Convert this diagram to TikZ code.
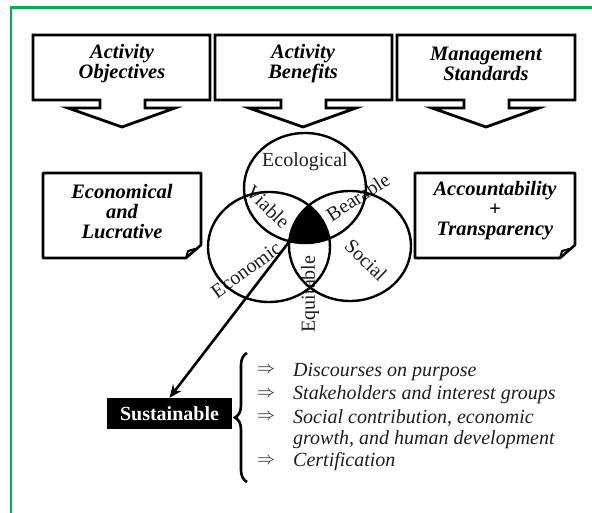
\documentclass[tikz,border=0pt]{standalone}
\usepackage{graphicx}
\usepackage{fontspec}
\setmainfont{Liberation Serif}
\usetikzlibrary{arrows.meta,decorations.pathreplacing}
\definecolor{framegreen}{RGB}{0,176,80}
\definecolor{txtgray}{RGB}{30,30,30}
\newcommand{\listimplies}{\raisebox{2pt}{\resizebox{18pt}{!}{$\Rightarrow$}}}
\begin{document}
\begin{tikzpicture}[x=1pt,y=-1pt,
  frameline/.style={draw=framegreen,line width=2.6pt},
  calloutline/.style={draw=black,line width=2.8pt,line join=miter,fill=white},
  notebox/.style={draw=black,line width=2.6pt,line join=round,fill=white},
  foldline/.style={draw=black,line width=2pt,line join=round},
  boxtext/.style={font=\fontsize{20.5}{20}\selectfont\bfseries\itshape,align=center,inner sep=0pt},
  venn/.style={draw=black,line width=2.4pt},
  vlabel/.style={font=\fontsize{20}{20}\selectfont,text=txtgray,inner sep=0pt},
  listtext/.style={font=\fontsize{20}{22}\selectfont\itshape,text=txtgray,inner sep=0pt,anchor=base west},
  listarrow/.style={text=txtgray,inner sep=0pt,anchor=base west},
  susbox/.style={fill=black,text=white,font=\fontsize{20}{20}\selectfont\bfseries,minimum width=125pt,minimum height=31pt,inner sep=0pt},
  mainarrow/.style={draw=black,line width=2.6pt,-{Stealth[length=13pt,width=11pt]}},
  bracestyle/.style={draw=black,line width=2.6pt,decorate,decoration={brace,amplitude=12pt}}
]
\useasboundingbox (0,0) rectangle (592,513);
% green frame
\coordinate (g1) at (11,513);
\coordinate (g2) at (11,7.5);
\coordinate (g3) at (592,7.5);
\draw[frameline] (g1) -- (g2) -- (g3);

% top callouts
\foreach \L/\R/\C in {33/210/122, 215/392/303, 397/575/486}{
  \draw[calloutline] (\L,35) -- (\R,35) -- (\R,100) -- (\C+23,100) -- (\C+23,108)
    -- (\C+53,108) -- (\C,127) -- (\C-54,108) -- (\C-22,108) -- (\C-22,100)
    -- (\L,100) -- cycle;
}
\node[boxtext] (t1) at (122,64) {Activity\\Objectives};
\node[boxtext] (t2) at (303,64) {Activity\\Benefits};
\node[boxtext] (t3) at (486,64) {Management\\Standards};

% notes
\draw[notebox] (43,173) -- (201,173) -- (201,245) -- (186,258) -- (43,258) -- cycle;
\draw[foldline] (186,258) -- (188,251) -- (195,249);
\node[boxtext] (n1) at (122,212) {Economical\\and\\Lucrative};
\draw[notebox] (415,173) -- (575,173) -- (575,245) -- (560,258) -- (415,258) -- cycle;
\draw[foldline] (560,258) -- (562,251) -- (569,249);
\node[boxtext] (n2) at (495,211) {Accountability\\+\\Transparency};

% venn core
\begin{scope}
  \clip (305,188) ellipse [x radius=61, y radius=55];
  \clip (269,247) ellipse [x radius=61, y radius=55];
  \fill[black] (350,246) ellipse [x radius=61, y radius=55];
\end{scope}

% venn labels
\node[vlabel] (eco) at (305,162) {Ecological};
\node[vlabel,rotate=-44] (via) at (268,207) {Viable};
\node[vlabel,rotate=33] (bea) at (358,197) {Bearable};
\node[vlabel,rotate=-44] (soc) at (366,260) {Social};
\node[vlabel,rotate=36] (ecn) at (246,270) {Economic};
\node[vlabel,rotate=90] (equ) at (310,294) {Equitable};

% venn circles
\draw[venn] (305,188) ellipse [x radius=61, y radius=55];
\draw[venn] (269,247) ellipse [x radius=61, y radius=55];
\draw[venn] (350,246) ellipse [x radius=61, y radius=55];

% sustainable
\node[susbox] (sus) at (169.5,413.5) {Sustainable};
\coordinate (core) at (289,242);
\draw[mainarrow] (core) -- (sus.north);

% brace
\coordinate (bb) at (247,482);
\coordinate (bt) at (247,353);
\draw[bracestyle] (bb) -- (bt);

% list
\node[listarrow] (a1) at (257,376) {\listimplies};
\node[listarrow] (a2) at (257,399.5) {\listimplies};
\node[listarrow] (a3) at (257,423) {\listimplies};
\node[listarrow] (a4) at (257,466) {\listimplies};
\node[listtext] (l1) at (293,376) {Discourses on purpose};
\node[listtext] (l2) at (293,399.5) {Stakeholders and interest groups};
\node[listtext] (l3) at (293,423) {Social contribution, economic};
\node[listtext] (l4) at (293,444.5) {growth, and human development};
\node[listtext] (l5) at (293,466) {Certification};
\end{tikzpicture}
\end{document}
